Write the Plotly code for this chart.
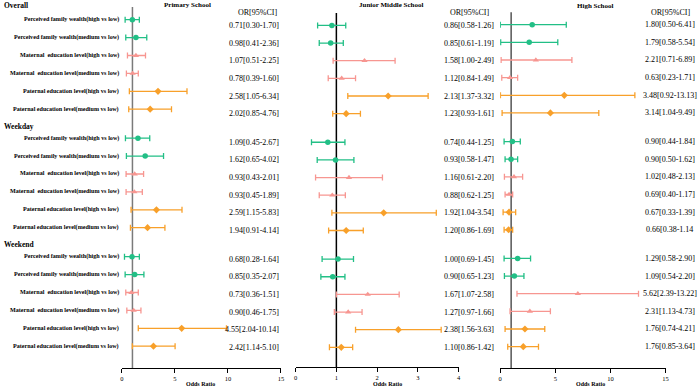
import plotly.graph_objects as go

# ---------------- data ----------------
groups = ["Overall", "Weekday", "Weekend"]
factors = [
    "Perceived family wealth(high vs low)",
    "Perceived family wealth(medium vs low)",
    "Maternal  education level(high vs low)",
    "Maternal  education level(medium vs low)",
    "Paternal education level(high vs low)",
    "Paternal education level(medium vs low)",
]
factor_kind = ["wealth", "wealth", "maternal", "maternal", "paternal", "paternal"]

panels = ["Primary School", "Junior Middle School", "High School"]

# plotted estimates (as drawn in the picture) -- 18 rows: Overall, Weekday, Weekend
primary_or = [0.99, 1.33, 1.33, 1.02, 3.41, 2.67, 1.52, 2.20, 1.21, 1.18, 3.26, 2.42, 0.96, 1.21, 0.90, 1.12, 5.64, 2.98]
primary_lo = [0.31, 0.37, 0.53, 0.43, 0.71, 0.65, 0.34, 0.43, 0.40, 0.40, 0.87, 0.81, 0.25, 0.31, 0.37, 0.47, 1.55, 0.99]
primary_hi = [1.65, 2.35, 2.23, 1.55, 6.14, 4.68, 2.63, 3.93, 2.05, 1.93, 5.67, 4.06, 1.65, 2.08, 1.55, 1.80, 9.86, 5.02]

junior_or = [0.89, 0.86, 1.69, 1.13, 2.27, 1.24, 0.79, 0.98, 1.31, 0.90, 2.16, 1.24, 1.04, 0.91, 1.77, 1.29, 2.52, 1.12]
junior_lo = [0.54, 0.58, 0.92, 0.80, 1.28, 0.91, 0.39, 0.53, 0.49, 0.58, 0.89, 0.81, 0.65, 0.62, 1.00, 0.95, 1.47, 0.83]
junior_hi = [1.23, 1.17, 2.44, 1.47, 3.25, 1.59, 1.21, 1.43, 2.13, 1.22, 3.45, 1.66, 1.42, 1.21, 2.54, 1.63, 3.57, 1.40]

high_or = [2.91, 2.64, 3.24, 0.90, 5.82, 4.56, 1.11, 0.99, 1.26, 0.81, 0.81, 0.77, 1.59, 1.29, 7.05, 2.70, 2.25, 2.10]
high_lo = [0.02, 0.05, 0.09, 0.15, 0.03, 0.18, 0.36, 0.45, 0.39, 0.45, 0.27, 0.36, 0.36, 0.39, 1.53, 0.90, 0.45, 0.69]
high_hi = [6.00, 5.23, 6.51, 1.59, 12.22, 8.95, 1.83, 1.59, 2.04, 1.14, 1.41, 1.14, 2.76, 2.16, 12.55, 4.56, 4.05, 3.48]

# printed OR[95%CI] labels
primary_txt = ["0.71[0.30-1.70]", "0.98[0.41-2.36]", "1.07[0.51-2.25]", "0.78[0.39-1.60]", "2.58[1.05-6.34]", "2.02[0.85-4.76]",
               "1.09[0.45-2.67]", "1.62[0.65-4.02]", "0.93[0.43-2.01]", "0.93[0.45-1.89]", "2.59[1.15-5.83]", "1.94[0.91-4.14]",
               "0.68[0.28-1.64]", "0.85[0.35-2.07]", "0.73[0.36-1.51]", "0.90[0.46-1.75]", "4.55[2.04-10.14]", "2.42[1.14-5.10]"]
junior_txt = ["0.86[0.58-1.26]", "0.85[0.61-1.19]", "1.58[1.00-2.49]", "1.12[0.84-1.49]", "2.13[1.37-3.32]", "1.23[0.93-1.61]",
              "0.74[0.44-1.25]", "0.93[0.58-1.47]", "1.16[0.61-2.20]", "0.88[0.62-1.25]", "1.92[1.04-3.54]", "1.20[0.86-1.69]",
              "1.00[0.69-1.45]", "0.90[0.65-1.23]", "1.67[1.07-2.58]", "1.27[0.97-1.66]", "2.38[1.56-3.63]", "1.10[0.86-1.42]"]
high_txt = ["1.80[0.50-6.41]", "1.79[0.58-5.54]", "2.21[0.71-6.89]", "0.63[0.23-1.71]", "3.48[0.92-13.13]", "3.14[1.04-9.49]",
            "0.90[0.44-1.84]", "0.90[0.50-1.62]", "1.02[0.48-2.13]", "0.69[0.40-1.17]", "0.67[0.33-1.39]", "0.66[0.38-1.14",
            "1.29[0.58-2.90]", "1.09[0.54-2.20]", "5.62[2.39-13.22]", "2.31[1.13-4.73]", "1.76[0.74-4.21]", "1.76[0.85-3.64]"]

x_ticks = [[0, 5, 10, 15], [0, 1, 2, 3, 4], [0, 5, 10, 15]]
x_ranges = [[0, 15], [0, 4], [0, 15]]

# ---------------- styling ----------------
W, H = 700, 386
GAP = 6.62  # row-units between group starts
colors = {"wealth": "#22BF86", "maternal": "#F79691", "paternal": "#F8A02A"}
symbols = {"wealth": "circle", "maternal": "triangle-up", "paternal": "diamond"}
ref_colors = ["#7a7a7a", "#000000", "#555555"]
SERIF = "Liberation Serif"

def px(xp):
    return xp / W

def py(yp):
    return 1 - yp / H

rows_v = []
rows_kind = []
for g in range(len(groups)):
    for i in range(len(factors)):
        rows_v.append(g * GAP + i)
        rows_kind.append(factor_kind[i])

fig = go.Figure()

# axis geometry in pixels: (x0, x1, ytop, ybottom, v0_px, px_per_v)
geom = [
    (120.7, 281.0, 7.0, 368.0, 19.7, 17.9),
    (295.7, 460.0, 13.0, 367.0, 25.4, 17.65),
    (501.7, 668.3, 12.3, 368.0, 24.7, 17.65),
]

data = [(primary_or, primary_lo, primary_hi), (junior_or, junior_lo, junior_hi), (high_or, high_lo, high_hi)]

for p in range(3):
    ors, los, his = data[p]
    xa = "x" if p == 0 else f"x{p+1}"
    ya = "y" if p == 0 else f"y{p+1}"
    for kind in ["wealth", "maternal", "paternal"]:
        idx = [k for k in range(len(rows_v)) if rows_kind[k] == kind]
        fig.add_trace(go.Scatter(
            x=[ors[k] for k in idx],
            y=[rows_v[k] for k in idx],
            mode="markers",
            xaxis=xa, yaxis=ya,
            marker=dict(symbol=symbols[kind], size=5.5, color=colors[kind]),
            error_x=dict(type="data", symmetric=False,
                         array=[his[k] - ors[k] for k in idx],
                         arrayminus=[ors[k] - los[k] for k in idx],
                         color=colors[kind], thickness=1.3, width=3),
            showlegend=False, hoverinfo="skip", cliponaxis=False,
        ))

layout = dict(
    width=W, height=H,
    margin=dict(l=0, r=0, t=0, b=0),
    paper_bgcolor="white", plot_bgcolor="white",
    font=dict(family=SERIF, color="black"),
    showlegend=False,
)

shapes = []
for p in range(3):
    x0, x1, yt, yb, v0, s = geom[p]
    key = "" if p == 0 else str(p + 1)
    layout["xaxis" + key] = dict(
        domain=[px(x0), px(x1)], range=x_ranges[p], anchor="y" + key,
        tickvals=x_ticks[p], showline=True, linecolor="black", linewidth=1.2,
        ticks="outside", ticklen=4, tickwidth=1, tickcolor="black",
        tickfont=dict(size=6.5, family=SERIF), showgrid=False, zeroline=False,
    )
    layout["yaxis" + key] = dict(
        domain=[py(yb), py(yt)],
        range=[(yb - v0) / s, (yt - v0) / s],
        visible=False, showgrid=False, zeroline=False, anchor="x" + key,
    )
    shapes.append(dict(type="line", xref="x" + key, yref="y" + key + " domain",
                       x0=1, x1=1, y0=0, y1=1,
                       line=dict(color=ref_colors[p], width=1.5), layer="below"))
layout["shapes"] = shapes

ann = []
# group headers
for name, yc in zip(groups, [5, 126, 244]):
    ann.append(dict(text="<b>" + name + "</b>", xref="paper", yref="paper",
                    x=0.0, y=py(yc), xanchor="left", yanchor="middle",
                    showarrow=False, font=dict(size=7.5, family=SERIF)))
# factor labels
for k, v in enumerate(rows_v):
    ann.append(dict(text="<b>" + factors[k % 6] + "</b>", xref="paper", yref="y",
                    x=px(119.5), y=v, xanchor="right", yanchor="middle",
                    showarrow=False, font=dict(size=6.1, family=SERIF)))
# OR texts
txt_cfg = [(primary_txt, px(281.5), "right", "y2"),
           (junior_txt, px(497.5), "right", "y2"),
           (high_txt, px(672.5), "center", "y3")]
for txts, xx, anc, yref in txt_cfg:
    for k, v in enumerate(rows_v):
        ann.append(dict(text=txts[k], xref="paper", yref=yref, x=xx, y=v,
                        xanchor=anc, yanchor="middle", showarrow=False,
                        font=dict(size=8, family=SERIF)))
# column headers
for xc in [257, 471, 673]:
    ann.append(dict(text="OR[95%CI]", xref="paper", yref="paper", x=px(xc), y=py(12),
                    xanchor="center", yanchor="middle", showarrow=False,
                    font=dict(size=8, family=SERIF)))
# panel titles
for name, xc, yc in zip(panels, [187, 392, 597], [5, 5, 6]):
    ann.append(dict(text="<b>" + name + "</b>", xref="paper", yref="paper", x=px(xc), y=py(yc),
                    xanchor="center", yanchor="middle", showarrow=False,
                    font=dict(size=7, family=SERIF)))
# x titles
for xc in [200, 388, 593]:
    ann.append(dict(text="<b>Odds Ratio</b>", xref="paper", yref="paper", x=px(xc), y=py(383.5),
                    xanchor="center", yanchor="middle", showarrow=False,
                    font=dict(size=6, family=SERIF)))
layout["annotations"] = ann

fig.update_layout(**layout)
fig.write_html("out.html", config={"displayModeBar": False},
               post_script="document.body.style.margin='0';document.body.style.overflow='hidden';")
